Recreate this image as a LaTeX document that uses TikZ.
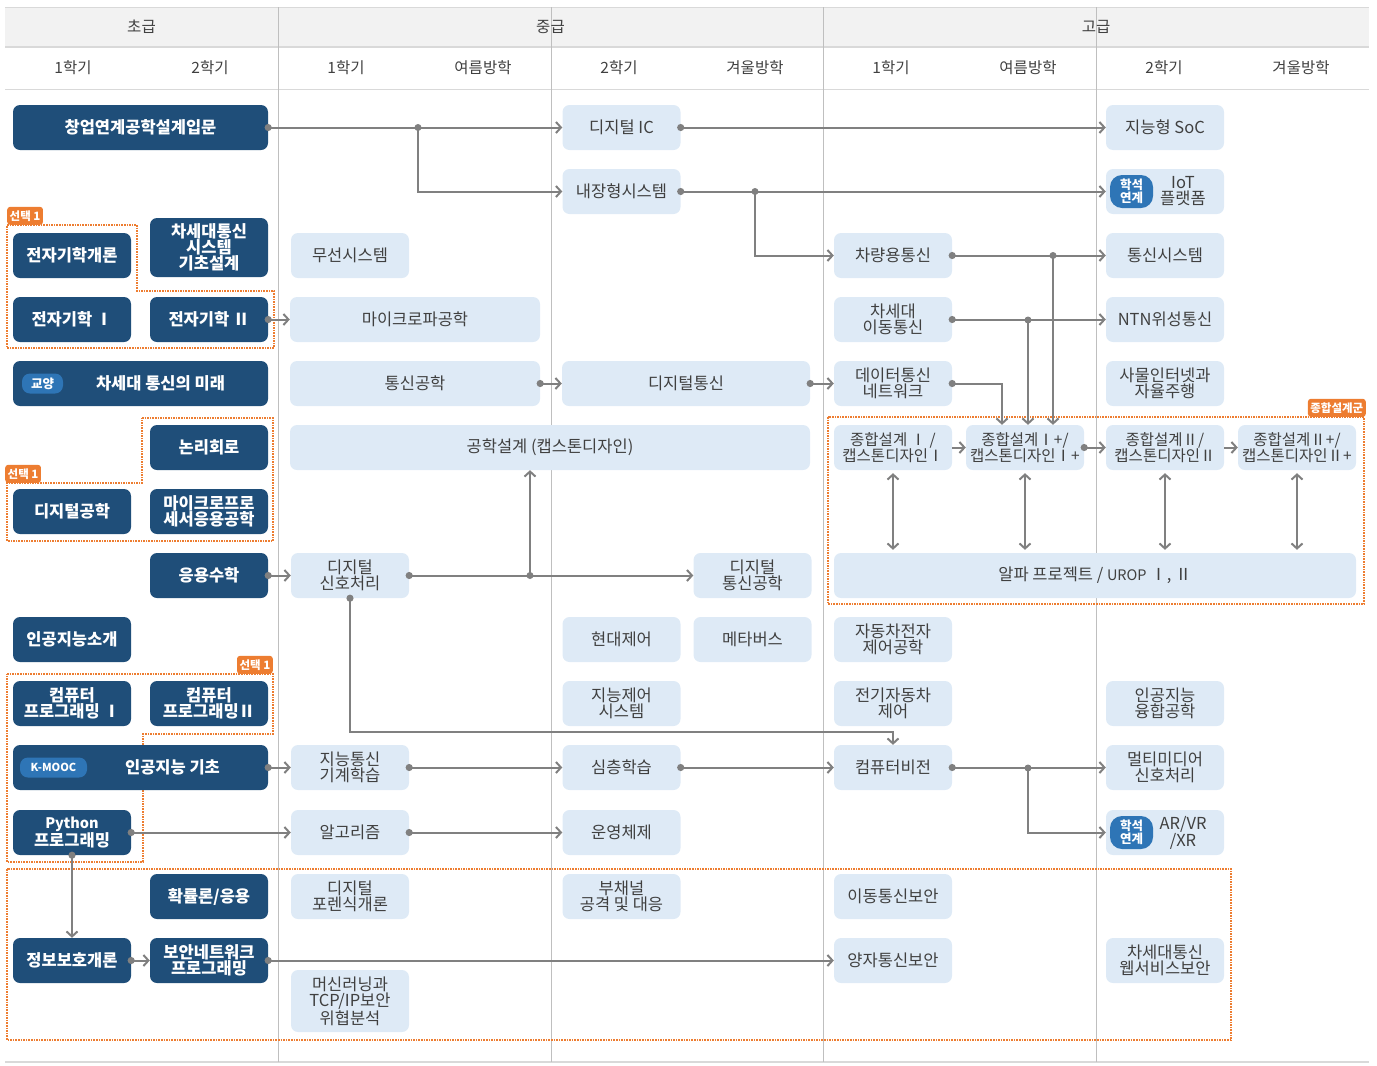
\documentclass[tikz,border=0pt]{standalone}
\usepackage{fontspec}
\setmainfont{Noto Sans CJK KR}
\usetikzlibrary{arrows.meta}

\definecolor{boxdk}{HTML}{1F4E79}
\definecolor{boxlt}{HTML}{DEEAF6}
\definecolor{txtgray}{HTML}{404040}
\definecolor{linegray}{HTML}{808080}
\definecolor{grporange}{HTML}{ED7D31}
\definecolor{badgeblue}{HTML}{2E75B6}
\definecolor{headfill}{HTML}{F2F2F2}
\definecolor{gridline}{HTML}{D9D9D9}
\definecolor{vline}{HTML}{BFBFBF}

\tikzset{
  lt/.style={rectangle, rounded corners=7pt, fill=boxlt, text=txtgray, minimum width=118pt, minimum height=45pt, inner sep=1pt, align=center, font=\fontsize{16.5}{16}\selectfont},
  dk/.style={lt, fill=boxdk, text=white, font=\bfseries\fontsize{16.5}{16}\selectfont},
  zs/.style={font=\fontsize{15.5}{16}\selectfont},
  con/.style={draw=linegray, line width=2pt, shorten <=-3.5pt, {Circle[length=7pt]}-{Straight Barb[length=5pt,width=11pt]}},
  arr/.style={draw=linegray, line width=2pt, -{Straight Barb[length=5pt,width=11pt]}},
  dbl/.style={draw=linegray, line width=2pt, shorten <=3pt, shorten >=3pt, {Straight Barb[length=5pt,width=11pt]}-{Straight Barb[length=5pt,width=11pt]}},
  jdot/.style={circle, fill=linegray, inner sep=0pt, minimum size=7pt},
  grp/.style={draw=grporange, densely dotted, line width=1.6pt},
  tag/.style={fill=grporange, text=white, rounded corners=3pt, minimum height=18pt, inner sep=2.5pt, font=\bfseries\fontsize{11.5}{11.5}\selectfont},
  badge/.style={fill=badgeblue, text=white, rounded corners=8pt, inner sep=0pt, align=center, font=\bfseries\fontsize{12.5}{11.5}\selectfont},
  head/.style={text=txtgray, font=\fontsize{15.5}{16}\selectfont}
}

\begin{document}
\begin{tikzpicture}[x=1pt,y=-1pt]
\useasboundingbox (0,0) rectangle (1377,1066);

% table frame
\fill[headfill] (5,7) rectangle (1369,47);
\draw[gridline] (5,7) -- (1369,7);
\draw[gridline, line width=2pt] (5,47) -- (1369,47);
\draw[gridline] (5,89) -- (1369,89);
\draw[gridline, line width=1.5pt] (5,1062) -- (1369,1062);
\foreach \x in {278,551,823,1096}
  \draw[vline] (\x,7) -- (\x,1062);

\node[head] (hlow) at (141.5,27) {초급};
\node[head] (hmid) at (550.5,27) {중급};
\node[head] (hhigh) at (1096,27) {고급};
\foreach \x/\t [count=\i] in {73/1학기,210/2학기,346/1학기,483/여름방학,619/2학기,755/겨울방학,891/1학기,1028/여름방학,1164/2학기,1301/겨울방학}
  \node[head] (sem\i) at (\x,68) {\t};

% orange groups
\draw[grp] (7,225) -- (137,225) -- (137,291) -- (274,291) -- (274,348) -- (7,348) -- cycle;
\draw[grp] (142,418) -- (273,418) -- (273,541) -- (7,541) -- (7,483) -- (142,483) -- cycle;
\draw[grp] (7,674) -- (273,674) -- (273,734) -- (143,734) -- (143,862) -- (7,862) -- cycle;
\draw[grp] (7,869) rectangle (1231,1040);
\draw[grp] (828,417) rectangle (1364,604);
\node[tag, anchor=south west] (sel1) at (7,225) {선택 1};
\node[tag, anchor=south west] (sel2) at (5,483) {선택 1};
\node[tag, anchor=south east] (sel3) at (273,674) {선택 1};
\node[tag, anchor=south east] (zsg) at (1366,417) {종합설계군};

% 초급
\node[dk, minimum width=255pt] (intro) at (140.5,127.5) {창업연계공학설계입문};
\node[dk] (emi) at (72,255.5) {전자기학개론};
\node[dk, minimum height=59pt] (ngcom) at (209,247.5) {차세대통신\\시스템\\기초설계};
\node[dk] (em1) at (72,319.5) {전자기학 Ⅰ};
\node[dk] (em2) at (209,319.5) {전자기학 Ⅱ};
\node[dk, minimum width=255pt] (futcom) at (140.5,383.5) {\hspace*{40pt}차세대 통신의 미래};
\node[badge, minimum width=41pt, minimum height=20pt] (bgen) at (42.5,383.5) {교양};
\node[dk] (logic) at (209,447.5) {논리회로};
\node[dk] (dig) at (72,511.5) {디지털공학};
\node[dk] (mpu) at (209,511.5) {마이크로프로\\세서응용공학};
\node[dk] (amath) at (209,575.5) {응용수학};
\node[dk] (aiint) at (72,639.5) {인공지능소개};
\node[dk] (cp1) at (72,703.5) {컴퓨터\\프로그래밍 Ⅰ};
\node[dk] (cp2) at (209,703.5) {컴퓨터\\프로그래밍Ⅱ};
\node[dk, minimum width=255pt] (aib) at (140.5,767.5) {\hspace*{64pt}인공지능 기초};
\node[badge, minimum width=67pt, minimum height=20pt, font=\bfseries\fontsize{11}{11}\selectfont] (bmooc) at (53.5,767.5) {K-MOOC};
\node[dk] (py) at (72,832.5) {{\fontsize{14.5}{15}\selectfont Python}\\프로그래밍};
\node[dk] (prob) at (209,896.5) {확률론/응용};
\node[dk] (infosec) at (72,960.5) {정보보호개론};
\node[dk] (secnet) at (209,960.5) {보안네트워크\\프로그래밍};

% 중급
\node[lt] (wls) at (350,255.5) {무선시스템};
\node[lt, minimum width=250pt] (micro) at (415,319.5) {마이크로파공학};
\node[lt, minimum width=250pt] (comeng) at (415,383.5) {통신공학};
\node[lt, minimum width=520pt] (capd) at (550,447.5) {공학설계 (캡스톤디자인)};
\node[lt] (dsp) at (350,575.5) {디지털\\신호처리};
\node[lt] (icml) at (350,767.5) {지능통신\\기계학습};
\node[lt] (algo) at (350,832.5) {알고리즘};
\node[lt] (forensic) at (350,896.5) {디지털\\포렌식개론};
\node[lt, minimum height=62pt] (mlsec) at (350,1001) {머신러닝과\\TCP/IP보안\\위협분석};
\node[lt] (dic) at (621.5,127.5) {디지털 IC};
\node[lt] (emb) at (621.5,191.5) {내장형시스템};
\node[lt, minimum width=248pt] (dcom) at (686,383.5) {디지털통신};
\node[lt] (mctl) at (621.5,639.5) {현대제어};
\node[lt] (ictl) at (621.5,703.5) {지능제어\\시스템};
\node[lt] (deep) at (621.5,767.5) {심층학습};
\node[lt] (os) at (621.5,832.5) {운영체제};
\node[lt] (side) at (621.5,896.5) {부채널\\공격 및 대응};
\node[lt] (dcomeng) at (752.5,575.5) {디지털\\통신공학};
\node[lt] (meta) at (752.5,639.5) {메타버스};

% 고급
\node[lt] (vcom) at (893,255.5) {차량용통신};
\node[lt] (ngmob) at (893,319.5) {차세대\\이동통신};
\node[lt] (dcn) at (893,383.5) {데이터통신\\네트워크};
\node[lt, zs] (zs1) at (893,447.5) {종합설계 Ⅰ /\\캡스톤디자인Ⅰ};
\node[lt, zs] (zs2) at (1025,447.5) {종합설계Ⅰ+/\\캡스톤디자인Ⅰ+};
\node[lt, zs] (zs3) at (1165,447.5) {종합설계Ⅱ/\\캡스톤디자인Ⅱ};
\node[lt, zs] (zs4) at (1297,447.5) {종합설계Ⅱ+/\\캡스톤디자인Ⅱ+};
\node[lt, minimum width=522pt] (alpha) at (1095,575.5) {알파 프로젝트 / {\fontsize{14.5}{15}\selectfont UROP} Ⅰ, Ⅱ};
\node[lt] (auto) at (893,639.5) {자동차전자\\제어공학};
\node[lt] (ev) at (893,703.5) {전기자동차\\제어};
\node[lt] (cv) at (893,767.5) {컴퓨터비전};
\node[lt] (mobsec) at (893,896.5) {이동통신보안};
\node[lt] (qsec) at (893,960.5) {양자통신보안};
\node[lt] (soc) at (1165,127.5) {지능형 SoC};
\node[lt] (iot) at (1165,191.5) {\hspace*{36pt}IoT\\\hspace*{36pt}플랫폼};
\node[badge, minimum width=43pt, minimum height=33pt, rounded corners=12pt] (biot) at (1131.5,191.5) {학석\\연계};
\node[lt] (comsys) at (1165,255.5) {통신시스템};
\node[lt] (ntn) at (1165,319.5) {NTN위성통신};
\node[lt] (iotad) at (1165,383.5) {사물인터넷과\\자율주행};
\node[lt] (aifus) at (1165,703.5) {인공지능\\융합공학};
\node[lt] (mm) at (1165,767.5) {멀티미디어\\신호처리};
\node[lt] (arvr) at (1165,832.5) {\hspace*{36pt}AR/VR\\\hspace*{36pt}/XR};
\node[badge, minimum width=43pt, minimum height=33pt, rounded corners=12pt] (barvr) at (1131.5,832.5) {학석\\연계};
\node[lt] (websec) at (1165,960.5) {차세대통신\\웹서비스보안};

% junctions
\node[jdot] (j1) at (418,127.5) {};
\node[jdot] (j2) at (755,191.5) {};
\node[jdot] (j3) at (1053,255.5) {};
\node[jdot] (j4) at (1028,320) {};
\node[jdot] (j5) at (530,575.5) {};
\node[jdot] (j6) at (1028,768) {};
\coordinate (k1) at (893,732);

% connectors
\draw[con] (intro.east) -- (dic.west);
\draw[arr] (j1.center) |- (emb.west);
\draw[con] (dic.east) -- (soc.west);
\draw[con] (emb.east) -- (iot.west);
\draw[arr] (j2.center) |- (vcom.west);
\draw[con] (vcom.east) -- (comsys.west);
\draw[arr] (j3.center) -- (j3 |- zs2.north);
\draw[con] (ngmob.east) -- (ntn.west);
\draw[arr] (j4.center) -- (j4 |- zs2.north);
\draw[con] (dcn.east) -| ([xshift=-23pt]zs2.north);
\draw[con] (em2.east) -- (micro.west);
\draw[con] (comeng.east) -- (dcom.west);
\draw[con] (dcom.east) -- (dcn.west);
\draw[con] (amath.east) -- (dsp.west);
\draw[con] (dsp.east) -- (dcomeng.west);
\draw[arr] (j5.center) -- (j5 |- capd.south);
\draw[con] (dsp.south) |- (k1) -- (cv.north);
\draw[con] (aib.east) -- (icml.west);
\draw[con] (icml.east) -- (deep.west);
\draw[con] (deep.east) -- (cv.west);
\draw[con] (cv.east) -- (mm.west);
\draw[arr] (j6.center) |- (arvr.west);
\draw[con] (py.east) -- (algo.west);
\draw[con] (algo.east) -- (os.west);
\draw[con] (py.south) -- (infosec.north);
\draw[con] (infosec.east) -- (secnet.west);
\draw[con] (secnet.east) -- (qsec.west);
\draw[arr] (zs1.east) -- (zs2.west);
\draw[con] (zs2.east) -- (zs3.west);
\draw[arr] (zs3.east) -- (zs4.west);
\foreach \z in {zs1,zs2,zs3,zs4}
  \draw[dbl] (\z.south) -- (\z.south |- alpha.north);
\end{tikzpicture}
\end{document}
